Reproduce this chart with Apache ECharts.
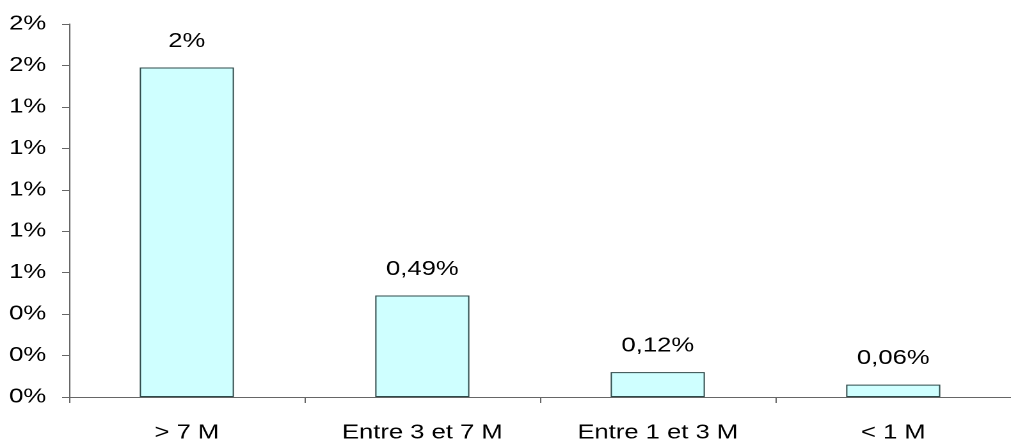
<!DOCTYPE html>
<html>
<head>
<meta charset="utf-8">
<script src="https://cdn.jsdelivr.net/npm/echarts@6/dist/echarts.min.js"></script>
<style>
  html, body { margin: 0; padding: 0; background: #fff; overflow: hidden; }
  /* chart drawn on a narrower canvas, then widened to the page width */
  #chart { width: 790px; height: 443px; transform: scaleX(1.2797); transform-origin: 0 0; }
</style>
</head>
<body>
<div id="chart"></div>
<script>
// Share by size band, in percent
const categories = ['> 7 M', 'Entre 3 et 7 M', 'Entre 1 et 3 M', '< 1 M'];
const shares = [1.59, 0.49, 0.12, 0.06];
const axisMax = 1.8;
const axisStep = 0.2;

const font = '"Liberation Sans", Arial, sans-serif';

function barLabel(v) {
  if (v >= 1) return Math.round(v) + '%';
  return v.toFixed(2).replace('.', ',') + '%';
}

const chart = echarts.init(document.getElementById('chart'), null, { renderer: 'canvas', devicePixelRatio: 2 });
chart.setOption({
  animation: false,
  backgroundColor: '#ffffff',
  grid: { left: 54, right: -9, top: 24, bottom: 45, containLabel: false },
  xAxis: {
    type: 'category',
    data: categories,
    axisLine: { lineStyle: { color: '#666', width: 1 } },
    axisTick: { show: true, length: 6, lineStyle: { color: '#666' } },
    axisLabel: { color: '#000', fontFamily: font, fontSize: 20, margin: 26 }
  },
  yAxis: {
    type: 'value',
    min: 0,
    max: axisMax,
    interval: axisStep,
    splitLine: { show: false },
    axisLine: { show: true, lineStyle: { color: '#666', width: 1 } },
    axisTick: { show: true, length: 5.5, lineStyle: { color: '#666' } },
    axisLabel: {
      color: '#000', fontFamily: font, fontSize: 20, margin: 18,
      formatter: v => Math.round(v) + '%'
    }
  },
  series: [{
    type: 'bar',
    data: shares,
    barWidth: '40%',
    itemStyle: { color: '#CFFFFF', borderColor: '#2f4a4a', borderWidth: 1 },
    label: {
      show: true,
      position: 'top',
      distance: 16,
      color: '#000',
      fontFamily: font,
      fontSize: 20,
      formatter: p => barLabel(p.value)
    }
  }]
});
</script>
</body>
</html>
